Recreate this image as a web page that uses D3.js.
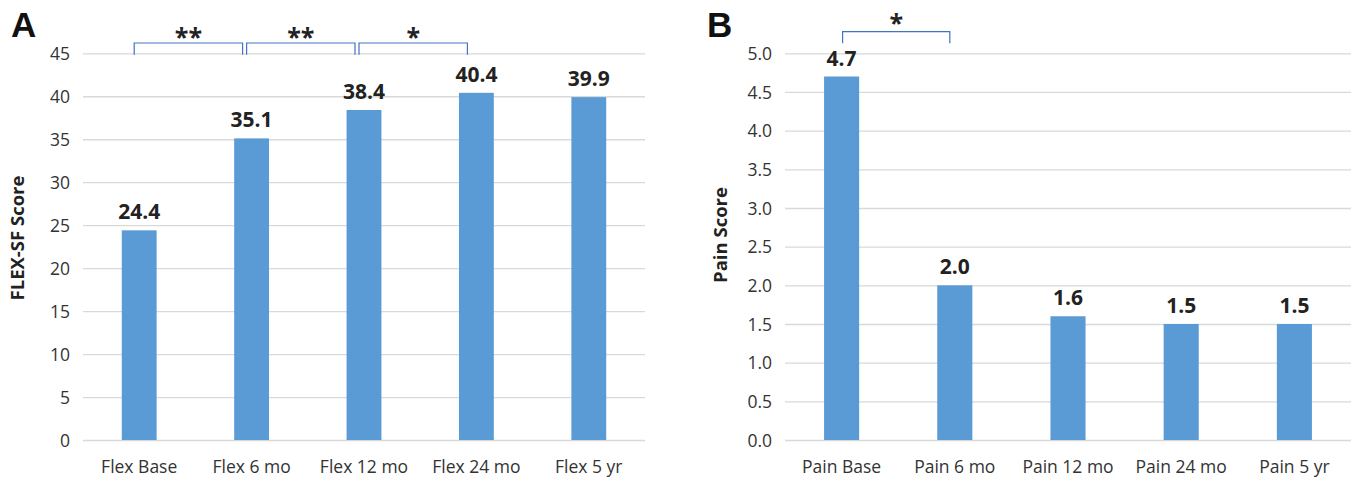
<!DOCTYPE html>
<head>
  <meta charset="utf-8">
  <script src="https://d3js.org/d3.v7.min.js"></script>
  <style>
    body { margin: 0; background: #fff; }
    text { font-family: "Open Sans", sans-serif; fill: #222; }
    .tick text { font-size: 17.5px; fill: #333; }
    .grid line { stroke: #d9d9d9; stroke-width: 1.3; }
    .grid path { display: none; }
    .val { font-size: 21px; font-weight: bold; }
    .ytitle { font-size: 18.5px; font-weight: bold; }
    .panel { font-family: "Liberation Sans", Arial, sans-serif; font-size: 35px; font-weight: bold; fill: #111; }
    .star { font-size: 25px; font-weight: bold; }
    .bracket { fill: none; stroke: #4472c4; stroke-width: 1.2; }
  </style>
</head>
<body>
<script>

var flexCats = ["Flex Base", "Flex 6 mo", "Flex 12 mo", "Flex 24 mo", "Flex 5 yr"];
var flexValues = [24.4, 35.1, 38.4, 40.4, 39.9];
var flexTicks = [0, 5, 10, 15, 20, 25, 30, 35, 40, 45];
var flexSig = [[0, 1, "**"], [1, 2, "**"], [2, 3, "*"]];

var painCats = ["Pain Base", "Pain 6 mo", "Pain 12 mo", "Pain 24 mo", "Pain 5 yr"];
var painValues = [4.7, 2.0, 1.6, 1.5, 1.5];
var painTicks = [0, 0.5, 1.0, 1.5, 2.0, 2.5, 3.0, 3.5, 4.0, 4.5, 5.0];
var painSig = [[0, 1, "*"]];

var W = 1358, H = 479;

var svg = d3.select("body").append("svg")
    .attr("width", W)
    .attr("height", H);

function panel(opt) {
  var x = d3.scaleBand()
      .domain(opt.cats)
      .range([opt.left, opt.right])
      .paddingInner(0.69)
      .paddingOuter(0.345);

  var y = d3.scaleLinear()
      .domain([0, opt.max])
      .range([440, 53.3]);

  var g = svg.append("g");

  // gridlines + tick labels
  g.append("g")
      .attr("class", "grid")
      .attr("transform", "translate(" + opt.left + ",0)")
      .call(d3.axisLeft(y)
        .tickValues(opt.ticks)
        .tickSize(-(opt.right - opt.left))
        .tickPadding(13)
        .tickFormat(opt.fmt))
    .selectAll(".tick text")
      .attr("dy", "0.36em");

  g.selectAll(".bar")
      .data(opt.values)
    .enter().append("rect")
      .attr("class", "bar")
      .attr("x", function(d, i) { return x(opt.cats[i]); })
      .attr("width", x.bandwidth())
      .attr("y", function(d) { return y(d); })
      .attr("height", function(d) { return y(0) - y(d); })
      .style("fill", "#5b9bd5");

  g.selectAll(".val")
      .data(opt.values)
    .enter().append("text")
      .attr("class", "val")
      .attr("x", function(d, i) { return x(opt.cats[i]) + x.bandwidth() / 2; })
      .attr("y", function(d) { return y(d) - 11; })
      .attr("text-anchor", "middle")
      .text(function(d) { return d.toFixed(1); });

  g.selectAll(".cat")
      .data(opt.cats)
    .enter().append("text")
      .attr("class", "tick")
      .attr("x", function(d) { return x(d) + x.bandwidth() / 2; })
      .attr("y", 473)
      .attr("text-anchor", "middle")
      .style("font-size", "17.5px")
      .style("fill", "#333")
      .text(function(d) { return d; });

  g.append("text")
      .attr("class", "ytitle")
      .attr("transform", "translate(" + opt.titleX + "," + opt.titleY + ") rotate(-90)")
      .attr("text-anchor", "middle")
      .text(opt.title);

  g.append("text")
      .attr("class", "panel")
      .attr("x", opt.labelX)
      .attr("y", 37)
      .text(opt.label);

  // significance brackets
  opt.sig.forEach(function(s) {
    var x0 = x(opt.cats[s[0]]) + x.bandwidth() / 2 + opt.off[0],
        x1 = x(opt.cats[s[1]]) + x.bandwidth() / 2 + opt.off[1];
    g.append("path")
        .attr("class", "bracket")
        .attr("d", "M" + x0 + "," + opt.brB + "V" + opt.brT + "H" + x1 + "V" + opt.brB);
    g.append("text")
        .attr("class", "star")
        .attr("x", (x0 + x1) / 2)
        .attr("y", opt.starY)
        .attr("text-anchor", "middle")
        .text(s[2]);
  });
}

panel({
  cats: flexCats, values: flexValues, ticks: flexTicks, sig: flexSig,
  max: 45, left: 83, right: 645, fmt: d3.format("d"),
  title: "FLEX-SF Score", titleX: 24, titleY: 238,
  label: "A", labelX: 11,
  off: [-5, -9], brT: 43, brB: 54.7, starY: 46
});

panel({
  cats: painCats, values: painValues, ticks: painTicks, sig: painSig,
  max: 5, left: 785, right: 1351, fmt: d3.format(".1f"),
  title: "Pain Score", titleX: 727, titleY: 235,
  label: "B", labelX: 707,
  off: [1, -5], brT: 31.7, brB: 43.3, starY: 32
});

</script>
</body>
